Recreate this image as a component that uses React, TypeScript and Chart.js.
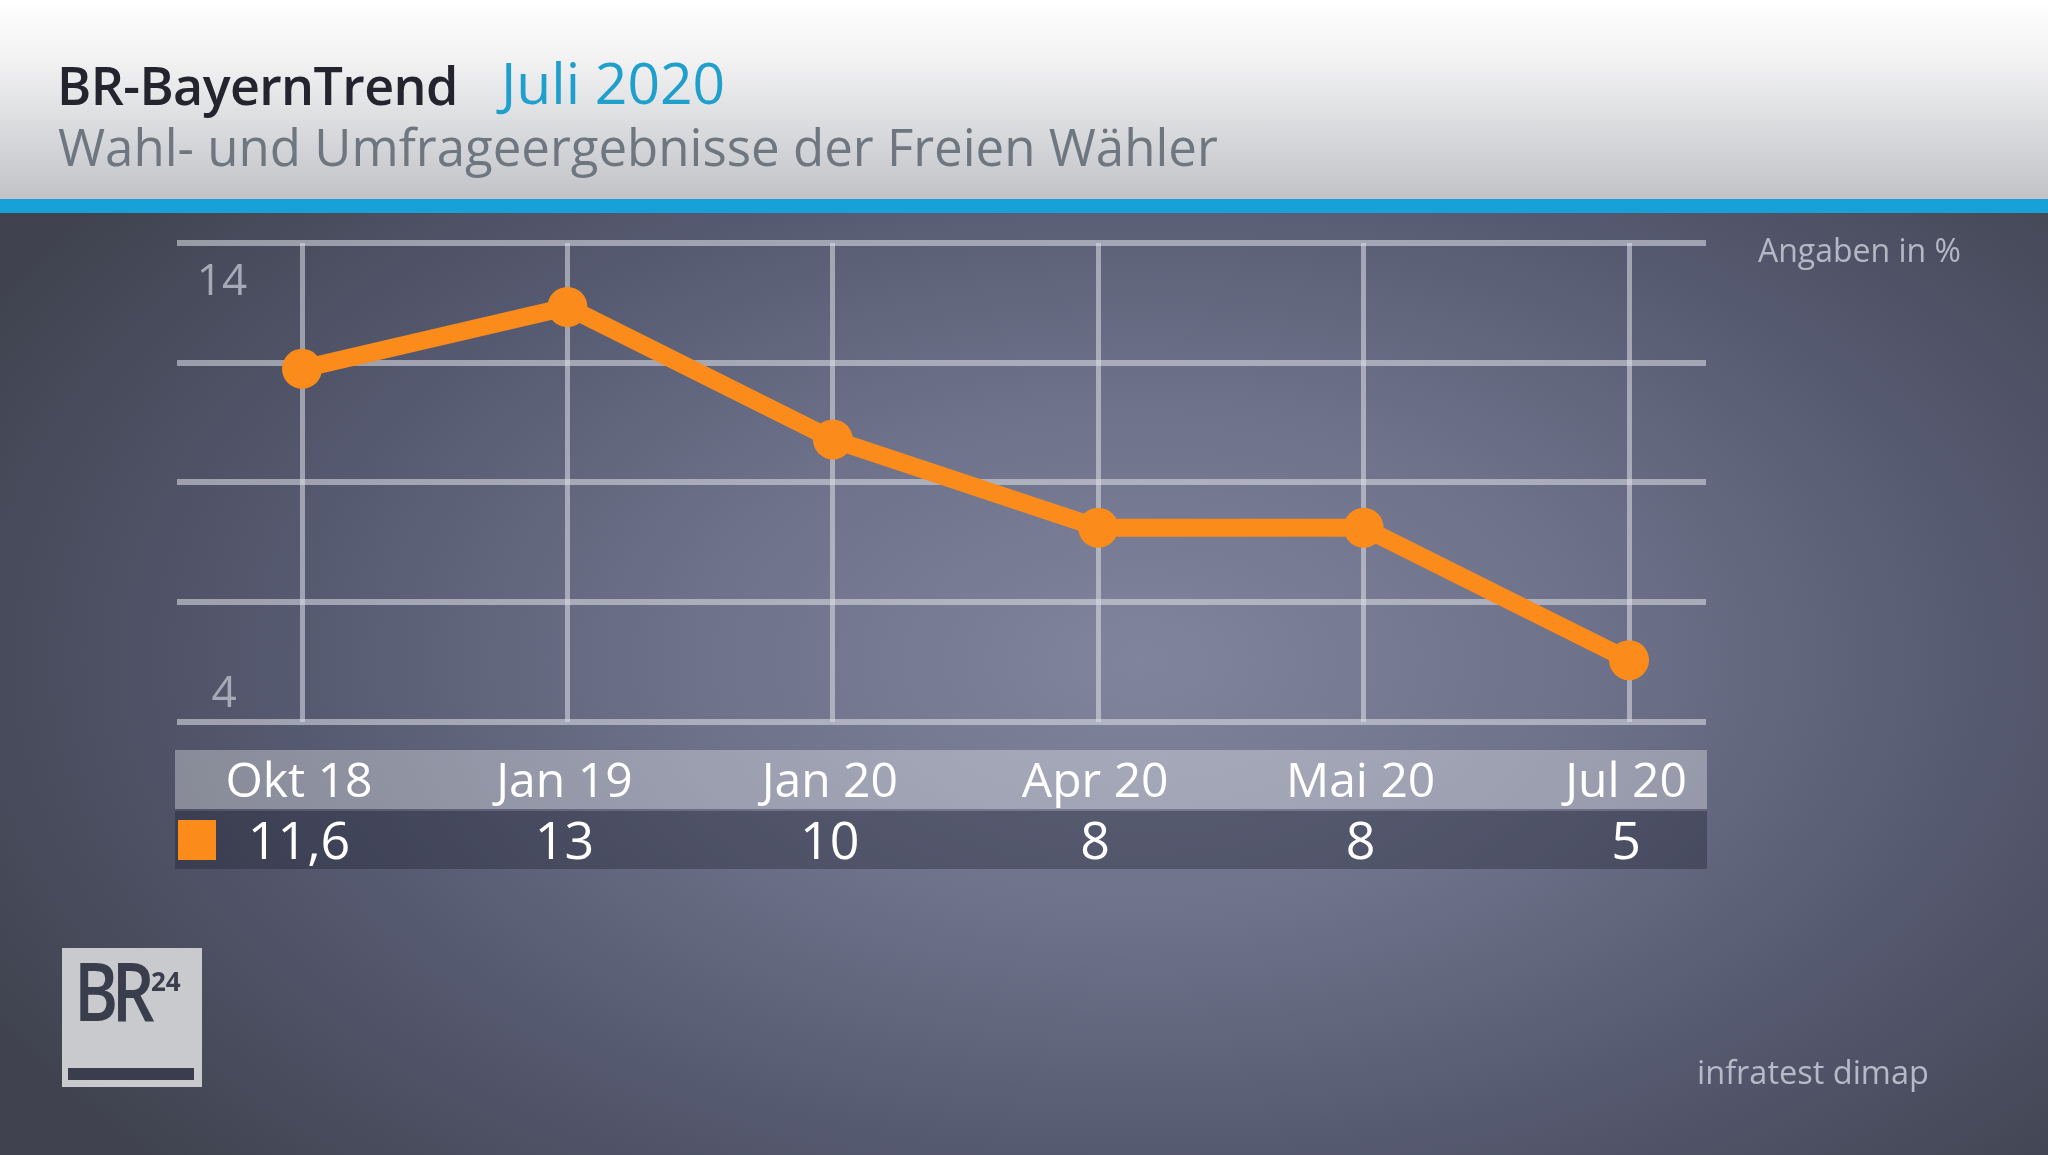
import React, { useEffect, useRef } from "react";
import { Chart, registerables } from "chart.js";

Chart.register(...registerables);

// ---------- data ----------
const categories = ["Okt 18", "Jan 19", "Jan 20", "Apr 20", "Mai 20", "Jul 20"];
const values = [11.6, 13, 10, 8, 8, 5];
const yTickLabels = ["14", "4"];
const seriesName = "Freie Wähler";

// ---------- layout / style ----------
const W = 2048;
const H = 1155;
const Y_MIN = 3.6;
const Y_MAX = 14.45;
const X_MIN = -0.471;
const X_MAX = 5.29;
const ORANGE = "#fb8b1b";
const FONT = '"Open Sans", "Noto Sans", sans-serif';
const GRID = "rgba(222,224,232,0.55)";

const fmt = (v: number) => v.toLocaleString("de-DE");

const overlayPlugin = {
  id: "overlay",
  beforeDatasetsDraw(chart: any) {
    const { ctx, chartArea } = chart;
    ctx.save();
    ctx.fillStyle = "#a6aab7";
    ctx.font = `44px ${FONT}`;
    ctx.textAlign = "center";
    ctx.textBaseline = "alphabetic";
    ctx.fillText(yTickLabels[0], chartArea.left + 45, chartArea.top + 52);
    ctx.fillText(yTickLabels[1], chartArea.left + 47, chartArea.bottom - 15);
    ctx.restore();
  },
  afterDraw(chart: any) {
    const { ctx, chartArea, scales } = chart;
    const xs = scales.x;
    const left = chartArea.left - 2;
    const right = chartArea.right + 1;
    const r1Top = chartArea.bottom + 28;
    const r1H = 59;
    const r2Top = r1Top + 61;
    const r2H = 58;
    ctx.save();
    ctx.fillStyle = "rgba(255,255,255,0.33)";
    ctx.fillRect(left, r1Top, right - left, r1H);
    ctx.fillStyle = "rgba(22,24,38,0.33)";
    ctx.fillRect(left, r2Top, right - left, r2H);
    // legend square
    ctx.fillStyle = ORANGE;
    ctx.fillRect(left + 3, r2Top + 9, 38, 40);
    ctx.fillStyle = "#ffffff";
    ctx.textAlign = "center";
    ctx.textBaseline = "alphabetic";
    categories.forEach((c, i) => {
      const px = xs.getPixelForValue(i) - 3;
      ctx.font = `48px ${FONT}`;
      ctx.fillText(c, px, r1Top + 47);
      ctx.font = `52px ${FONT}`;
      ctx.fillText(fmt(values[i]), px, r2Top + 48);
    });
    ctx.restore();
  },
};

export default function App() {
  const ref = useRef<HTMLCanvasElement | null>(null);

  useEffect(() => {
    document.body.style.margin = "0";
    const canvas = ref.current;
    if (!canvas) return;
    const chart = new Chart(canvas, {
      type: "line",
      data: {
        datasets: [
          {
            label: seriesName,
            data: values.map((v, i) => ({ x: i, y: v })),
            borderColor: ORANGE,
            backgroundColor: ORANGE,
            borderWidth: 18,
            pointRadius: 20,
            pointHoverRadius: 20,
            pointBackgroundColor: ORANGE,
            pointBorderWidth: 0,
            tension: 0,
            fill: false,
            clip: false as any,
          },
        ],
      },
      options: {
        responsive: false,
        animation: false,
        events: [],
        layout: {
          padding: { left: 177, right: W - 1706, top: 243, bottom: H - 722 },
        },
        plugins: {
          legend: { display: false },
          tooltip: { enabled: false },
          title: { display: false },
        },
        scales: {
          x: {
            type: "linear",
            min: X_MIN,
            max: X_MAX,
            afterBuildTicks: (s: any) => {
              s.ticks = categories.map((_, i) => ({ value: i }));
            },
            ticks: { display: false },
            grid: { color: GRID, lineWidth: 5, drawTicks: false },
            border: { display: false },
          },
          y: {
            type: "linear",
            min: Y_MIN,
            max: Y_MAX,
            afterBuildTicks: (s: any) => {
              s.ticks = [0, 1, 2, 3, 4].map((k) => ({
                value: Y_MIN + (k * (Y_MAX - Y_MIN)) / 4,
              }));
            },
            ticks: { display: false },
            grid: { color: GRID, lineWidth: 6, drawTicks: false },
            border: { display: false },
          },
        },
      },
      plugins: [overlayPlugin],
    });
    return () => chart.destroy();
  }, []);

  const text = (
    s: string,
    left: number,
    baseline: number,
    size: number,
    color: string,
    weight = 400,
    extra: React.CSSProperties = {}
  ) => (
    <div
      style={{
        position: "absolute",
        left,
        top: baseline - 0.888 * size,
        fontSize: size,
        lineHeight: 1,
        fontFamily: FONT,
        fontWeight: weight,
        color,
        whiteSpace: "nowrap",
        ...extra,
      }}
    >
      {s}
    </div>
  );

  return (
    <div
      style={{
        position: "fixed",
        left: 0,
        top: 0,
        width: W,
        height: H,
        overflow: "hidden",
        background:
          "radial-gradient(ellipse 1300px 760px at 1140px 660px, #80859d 0%, #6d7189 35%, #565a71 65%, #40434f 100%)",
      }}
    >
      <div
        style={{
          position: "absolute",
          left: 0,
          top: 0,
          width: W,
          height: 199,
          background: "linear-gradient(to bottom, #ffffff 0%, #f2f2f3 30%, #c1c3c7 100%)",
        }}
      />
      <div
        style={{
          position: "absolute",
          left: 0,
          top: 199,
          width: W,
          height: 14,
          background: "#18a1d9",
        }}
      />
      {text("BR-BayernTrend", 57, 105, 52, "#23242d", 600, { letterSpacing: -0.6 })}
      {text("Juli 2020", 501, 105, 57, "#1f9fcb", 500)}
      {text("Wahl- und Umfrageergebnisse der Freien Wähler", 58, 166, 51, "#6e7680", 400)}
      {text("Angaben in %", 1758, 262, 32, "#b4b8c4", 400)}
      {text("infratest dimap", 1697, 1085, 32.5, "#b6bac6", 400)}

      {/* BR24 logo */}
      <div
        style={{
          position: "absolute",
          left: 62,
          top: 948,
          width: 140,
          height: 139,
          background: "#c9cace",
        }}
      >
        <div
          style={{
            position: "absolute",
            left: 12,
            top: 0,
            fontFamily: FONT,
            fontWeight: 600,
            fontSize: 82,
            lineHeight: 1,
            letterSpacing: -8,
            color: "#3a3d4b",
            transform: "scaleX(0.82)",
            transformOrigin: "left top",
          }}
        >
          BR
        </div>
        <div
          style={{
            position: "absolute",
            left: 89,
            top: 20,
            fontFamily: FONT,
            fontWeight: 700,
            fontSize: 26,
            lineHeight: 1,
            color: "#3a3d4b",
          }}
        >
          24
        </div>
        <div
          style={{
            position: "absolute",
            left: 6,
            top: 120,
            width: 126,
            height: 12,
            background: "#3a3d4b",
          }}
        />
      </div>

      <canvas
        ref={ref}
        width={W}
        height={H}
        style={{ position: "absolute", left: 0, top: 0, width: W, height: H }}
      />
    </div>
  );
}
